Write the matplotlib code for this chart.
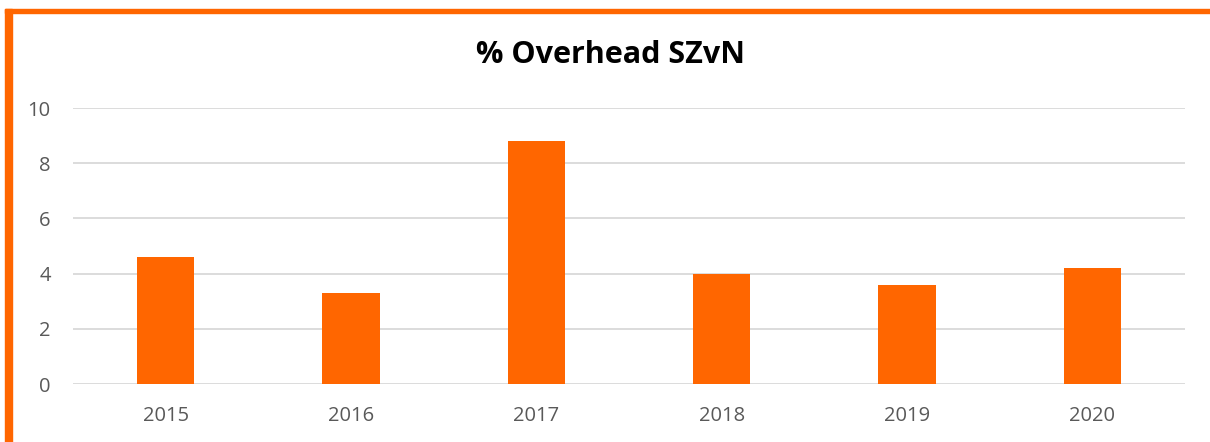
import matplotlib.pyplot as plt
from matplotlib.patches import Rectangle

years = ['2015', '2016', '2017', '2018', '2019', '2020']
overhead = [4.6, 3.3, 8.8, 4.0, 3.6, 4.2]

orange = '#FF6600'
W, H = 1210, 442
fig = plt.figure(figsize=(W / 100, H / 100), dpi=100)
plt.rcParams['font.family'] = ['Open Sans', 'DejaVu Sans']

# orange frame (top + left edge)
fig.patches.append(Rectangle((5 / W, 1 - 13 / H), 1 - 5 / W, 4 / H,
                             transform=fig.transFigure, color=orange, zorder=0))
fig.patches.append(Rectangle((5 / W, 0), 7 / W, 1 - 9 / H,
                             transform=fig.transFigure, color=orange, zorder=0))

ax = fig.add_axes([73 / W, 1 - 384 / H, (1185 - 73) / W, (384 - 108) / H])
x = range(len(years))
ax.bar(x, overhead, width=0.31, color=orange, zorder=3)
ax.set_xlim(-0.5, len(years) - 0.5)
ax.set_ylim(0, 10)
ax.set_yticks(range(0, 11, 2))
ax.set_xticks(list(x))
ax.set_xticklabels(years)
ax.grid(axis='y', color='#D9D9D9', linewidth=1.3, zorder=0)
for s in ax.spines.values():
    s.set_visible(False)
ax.tick_params(length=0, colors='#595959', labelsize=14.5)
ax.tick_params(axis='y', pad=16)
ax.tick_params(axis='x', pad=16)

fig.text(611 / W, 1 - 55 / H, '% Overhead SZvN', ha='center', va='center',
         fontsize=22, fontweight='bold', color='black')

fig.savefig('out.png', dpi=100)
